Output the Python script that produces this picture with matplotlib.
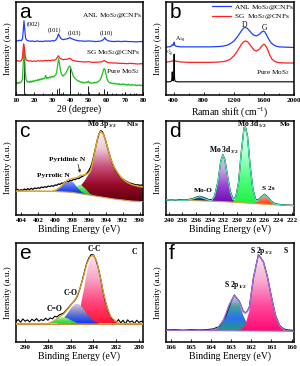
import numpy as np
import matplotlib.pyplot as plt
from matplotlib.colors import LinearSegmentedColormap
from matplotlib.patches import Polygon

plt.rcParams['font.family'] = 'Liberation Serif'
plt.rcParams['font.weight'] = 'bold'
plt.rcParams['mathtext.default'] = 'regular'

# ---------------- (a) XRD ----------------
a_anl = [(10,165),(11,164),(12,166),(13,165),(13.6,172),(14.0,195),(14.4,225),(14.8,200),(15.3,172),
         (16,166),(17,164),(18,163),(19,164),(20,162),(21,163),(22,164),(23,162),(24,163),(25,162),
         (26,164),(27,163),(28,164),(29,163),(30,165),(31,164),(32,167),(32.8,175),(33.4,185),(34.0,178),
         (35,170),(36,168),(37,169),(38,170),(39,172),(39.8,174),(40.5,171),(42,168),(43,166),(44,165),
         (45,164),(46,164),(48,163),(50,164),(52,163),(54,162),(56,163),(57.5,165),(58.5,170),(59.0,174),
         (59.5,169),(60.5,165),(62,163),(64,162),(66,163),(68,162),(70,163),(72,162),(74,162),(76,161),
         (78,162),(80,162)]
a_sg = [(10,103),(11,104),(12,102),(13,105),(13.5,112),(13.9,138),(14.2,155),(14.6,145),(15.0,122),
        (15.5,108),(16,105),(17,103),(18,104),(19,102),(20,103),(21,102),(22,104),(23,103),(24,104),
        (25,103),(26,105),(27,104),(28,105),(29,104),(30,106),(31,105),(32,108),(32.8,114),(33.3,119),
        (34.0,113),(35,109),(36,107),(37,108),(38,108),(39.3,111),(40,110),(41,106),(42,104),(43,103),
        (44,102),(46,101),(48,100),(50,101),(52,99),(54,99),(56,100),(57.5,101),(58.6,105),(59.5,101),
        (61,98),(63,97),(65,97),(67,96),(69,96),(71,95),(73,96),(75,95),(77,94),(79,95),(80,94)]
a_pure = [(10,37),(10.5,34),(11,38),(11.5,35),(12,39),(12.5,37),(13,41),(13.5,48),(13.9,85),(14.2,122),
          (14.5,140),(14.8,112),(15.1,70),(15.5,48),(16,42),(16.5,39),(17,41),(17.5,38),(18,42),(18.5,39),
          (19,43),(19.5,40),(20,44),(20.5,42),(21,45),(21.5,43),(22,47),(22.5,44),(23,48),(23.5,46),
          (24,50),(24.5,47),(25,51),(25.5,49),(26,52),(26.4,60),(26.7,52),(27,50),(27.5,53),(28,51),
          (28.5,55),(29,52),(29.5,56),(30,54),(30.5,57),(31,55),(31.5,59),(32,62),(32.5,72),(33,92),
          (33.5,110),(34,95),(34.5,75),(35,65),(35.5,60),(36,57),(36.5,61),(37,63),(37.5,67),(38,72),
          (38.5,78),(39,84),(39.5,88),(40,85),(40.5,76),(41,66),(41.5,58),(42,54),(42.5,50),(43,48),
          (43.5,45),(44,44),(44.5,41),(45,42),(45.5,39),(46,40),(46.5,37),(47,39),(47.5,36),(48,38),
          (48.5,37),(49,40),(49.5,38),(50,42),(50.5,37),(51,38),(51.5,35),(52,37),(52.5,36),(53,38),
          (53.5,36),(54,39),(54.5,37),(55,40),(55.5,41),(56,44),(56.5,47),(57,53),(57.5,62),(58,72),
          (58.5,80),(59,78),(59.5,66),(60,52),(60.5,44),(61,40),(61.5,37),(62,38),(62.5,35),(63,36),
          (63.5,34),(64,36),(64.5,33),(65,35),(65.5,33),(66,34),(66.5,32),(67,34),(67.5,31),(68,33),
          (68.5,31),(69,34),(69.5,32),(70,33),(70.5,30),(71,32),(71.5,30),(72,33),(72.5,30),(73,31),
          (73.5,29),(74,32),(74.5,30),(75,31),(75.5,29),(76,31),(76.5,28),(77,30),(77.5,29),(78,31),
          (78.5,28),(79,30),(79.5,28),(80,29)]
a_ref_pos = [14.4, 32.7, 33.5, 35.9, 39.5, 44.2, 49.8, 55.9, 58.3, 60.1, 62.8, 68.7, 70.1, 72.8, 75.9]
a_ref_h = [138, 18, 22, 10, 82, 10, 28, 8, 18, 12, 6, 6, 8, 5, 5]

# ---------------- (b) Raman ----------------
b_anl = [(300,145),(330,146),(360,147),(375,150),(383,153),(392,150),(400,153),(408,160),(416,151),
         (430,148),(460,147),(500,146),(600,146),(700,146),(800,146),(900,146),(1000,147),(1050,148),
         (1100,150),(1150,155),(1200,163),(1250,177),(1300,194),(1330,203),(1355,205),(1380,202),
         (1420,192),(1460,182),(1500,179),(1540,184),(1570,191),(1595,194),(1615,191),(1640,180),
         (1670,167),(1700,157),(1750,149),(1800,146),(1900,145),(2000,144)]
b_sg = [(300,100),(350,101),(380,103),(400,104),(420,103),(450,102),(500,100),(600,99),(700,99),
        (800,99),(900,99),(1000,100),(1050,101),(1100,103),(1150,108),(1200,118),(1250,134),(1300,153),
        (1330,161),(1355,164),(1390,160),(1430,148),(1470,136),(1500,133),(1540,139),(1575,149),
        (1600,154),(1620,151),(1650,138),(1680,120),(1710,108),(1750,101),(1800,98),(1900,97),(2000,97)]
b_pure = [(300,40),(340,40),(365,41),(375,44),(380,55),(383,70),(386,55),(390,44),(398,43),(402,52),
          (405,80),(408,124),(411,80),(414,50),(420,42),(450,40),(600,40),(1000,40),(1500,40),(2000,40)]

# ---------------- (c) N1s / Mo 3p ----------------
c_raw = [(404.6,74),(404.4,77),(404.2,73),(404.0,76),(403.8,74),(403.6,78),(403.4,75),(403.2,79),
         (403.0,76),(402.8,80),(402.6,77),(402.4,81),(402.2,79),(402.0,82),(401.8,80),(401.6,84),
         (401.4,82),(401.2,85),(401.0,83),(400.8,87),(400.6,85),(400.4,88),(400.2,86),(400.0,90),
         (399.8,89),(399.6,93),(399.4,92),(399.2,96),(399.0,95),(398.8,99),(398.6,101),(398.4,100),
         (398.2,104),(398.0,103),(397.8,107),(397.6,106),(397.4,110),(397.2,109),(397.0,113),
         (396.8,115),(396.6,118),(396.4,121),(396.2,126),(396.0,133),(395.8,143),(395.6,158),
         (395.4,180),(395.2,203),(395.0,225),(394.8,243),(394.6,253),(394.4,250),(394.2,238),
         (394.0,222),(393.8,203),(393.6,185),(393.4,168),(393.2,154),(393.0,142),(392.8,132),
         (392.6,125),(392.4,118),(392.2,113),(392.0,108),(391.8,105),(391.6,101),(391.4,99),
         (391.2,96),(391.0,95),(390.8,93),(390.6,92),(390.4,90),(390.2,91),(390.0,89),(389.8,90),(389.6,89)]
c_bg = [(404.6,72),(400.3,71),(398.0,68),(396.7,63),(395.0,56),(393.0,48),(391.0,42),(389.6,40)]
c_fit = [(404.6,72),(400.3,71),(399.8,76),(399.3,85),(398.8,99),(398.3,107),(397.8,110),(397.3,113),
         (397.0,119),(396.5,120),(396.1,124),(395.8,132),(395.5,163),(395.2,202),(394.9,237),
         (394.6,251),(394.3,243),(394.0,222),(393.7,194),(393.4,168),(393.0,143),(392.6,127),
         (392.2,113),(391.8,104),(391.4,97),(391.0,92),(390.5,88),(390.0,85),(389.6,84)]
c_mo3p = [(398.0,0),(397.5,8),(397.0,22),(396.5,40),(396.1,58),(395.8,70),(395.5,105),(395.2,145),
          (394.9,182),(394.6,197),(394.3,190),(394.0,170),(393.7,143),(393.4,118),(393.0,95),
          (392.6,80),(392.2,68),(391.8,60),(391.4,54),(391.0,50),(390.5,47),(390.0,45),(389.6,44)]
c_pyrrolic = [(400.3,0),(399.8,5),(399.3,15),(398.8,30),(398.3,37),(397.8,30),(397.3,15),(396.8,5),(396.3,0)]
c_pyridinic = [(398.6,0),(398.1,5),(397.6,17),(397.0,28),(396.4,17),(395.9,5),(395.4,0)]

# ---------------- (d) Mo 3d ----------------
d_bg = [(240.4,45),(236.0,43),(232.0,40),(228.0,35),(224.0,30),(221.7,28)]
d_fit = [(240.4,45),(239,45),(238,44),(237.5,44),(236.5,48),(235.5,55),(234.5,47),(233.8,42),
         (233.3,56),(232.8,100),(232.4,160),(232.1,180),(231.8,165),(231.4,115),(231.0,68),(230.6,46),
         (230.2,53),(229.8,97),(229.4,187),(229.0,261),(228.8,263),(228.5,236),(228.1,145),(227.7,75),
         (227.3,45),(227.0,42),(226.5,53),(226.0,61),(225.5,52),(225.0,40),(224.5,33),(224,31),
         (222,28),(221.7,28)]
d_raw = [(240.4,44),(239.5,46),(239,44),(238.5,46),(238,45),(237.5,45),(237,47),(236.5,49),(236,53),
         (235.5,56),(235,53),(234.5,49),(234,45),(233.6,47),(233.3,57),(232.8,101),(232.4,161),
         (232.1,181),(231.8,166),(231.4,116),(231.0,70),(230.6,48),(230.2,54),(229.8,98),(229.4,188),
         (229.0,262),(228.8,264),(228.5,237),(228.1,146),(227.7,77),(227.3,47),(227.0,44),(226.5,54),
         (226.0,62),(225.5,53),(225.0,41),(224.5,34),(224,32),(223,30),(222,29),(221.7,29)]
d_moo = [(237.5,0),(237.0,2),(236.5,5),(236.0,9),(235.5,12),(235.0,9),(234.5,5),(234.0,2),(233.5,0)]
d_3d32 = [(233.8,0),(233.3,15),(232.8,60),(232.4,120),(232.1,140),(231.8,125),(231.4,75),(231.0,30),(230.6,8),(230.2,0)]
d_3d52 = [(230.6,0),(230.2,15),(229.8,60),(229.4,150),(229.0,225),(228.8,227),(228.5,200),(228.1,110),(227.7,40),(227.3,10),(226.9,0)]
d_s2s = [(227.5,0),(227.0,8),(226.5,20),(226.0,28),(225.5,20),(225.0,8),(224.5,2),(224.0,0)]

# ---------------- (e) C1s ----------------
e_raw = [(290.8,62),(290.6,68),(290.4,60),(290.2,70),(290.0,63),(289.8,67),(289.6,61),(289.4,69),
         (289.2,64),(289.0,71),(288.8,63),(288.6,68),(288.4,65),(288.2,72),(288.0,66),(287.8,73),
         (287.6,70),(287.4,78),(287.2,76),(287.0,82),(286.8,85),(286.6,88),(286.4,96),(286.2,104),
         (286.0,112),(285.8,120),(285.6,128),(285.4,140),(285.2,160),(285.0,185),(284.8,212),
         (284.6,238),(284.4,255),(284.2,265),(284.0,264),(283.8,250),(283.6,228),(283.4,198),
         (283.2,160),(283.0,128),(282.8,105),(282.6,85),(282.4,72),(282.2,66),(282.0,60),(281.8,68),
         (281.6,58),(281.4,66),(281.2,55),(281.0,67),(280.8,60),(280.6,64),(280.4,56),(280.2,66),
         (280.0,59),(279.8,63),(279.65,60)]
e_bg = [(290.8,56),(279.65,56)]
e_fit = [(290.8,56),(288.0,56),(287.5,63),(287.0,76),(286.6,85),(286.2,102),(285.8,120),(285.5,135),
         (285.2,160),(284.9,195),(284.6,235),(284.3,258),(284.0,263),(283.7,243),(283.4,197),(283.1,146),
         (282.8,106),(282.5,78),(282.1,63),(281.7,56),(279.65,56)]
e_co2 = [(288.0,0),(287.5,7),(287.0,17),(286.7,20),(286.3,16),(285.8,7),(285.3,0)]
e_co = [(287.2,0),(286.8,8),(286.4,25),(286.0,45),(285.6,60),(285.3,60),(284.9,45),(284.5,25),(284.0,8),(283.5,0)]
e_cc = [(286.0,0),(285.6,10),(285.2,40),(284.8,110),(284.5,170),(284.2,205),(284.0,207),(283.7,185),
        (283.4,140),(283.1,90),(282.8,50),(282.5,22),(282.1,7),(281.7,0)]

# ---------------- (f) S 2p ----------------
f_bg = [(166.25,35),(159.88,32)]
f_fit = [(166.25,35),(164.5,35),(164.0,35),(163.7,40),(163.4,64),(163.1,112),(162.85,139),(162.6,120),
         (162.4,90),(162.3,86),(162.2,91),(162.1,104),(161.9,190),(161.65,260),(161.4,238),(161.2,193),
         (161.0,133),(160.8,78),(160.6,49),(160.4,37),(160.2,33),(159.88,32)]
f_raw = [(166.25,36),(165.8,37),(165.4,35),(165.0,37),(164.6,36),(164.2,37),(163.9,39),(163.6,46),
         (163.3,74),(163.0,122),(162.85,140),(162.6,121),(162.4,91),(162.3,87),(162.2,92),(162.1,105),
         (161.9,191),(161.65,261),(161.4,239),(161.2,194),(161.0,134),(160.8,80),(160.6,50),(160.4,39),
         (160.2,36),(160.0,35),(159.88,34)]
f_p12 = [(164.0,0),(163.7,6),(163.4,30),(163.1,78),(162.85,104),(162.6,82),(162.4,45),(162.2,20),(162.0,7),(161.7,0)]
f_p32 = [(162.8,0),(162.5,5),(162.3,18),(162.1,60),(161.9,155),(161.65,226),(161.4,205),(161.2,160),
         (161.0,100),(160.8,45),(160.6,16),(160.4,4),(160.2,0)]


def xy(pts):
    a = np.array(pts, dtype=float)
    return a[:, 0], a[:, 1]


def grad_fill(ax, pts, bg, colors, z=2):
    x, y = xy(pts)
    bx, by = xy(sorted(bg))
    base = np.interp(x, bx, by)
    top = base + y
    verts = np.column_stack([np.r_[x, x[::-1]], np.r_[top, base[::-1]]])
    patch = Polygon(verts, closed=True, facecolor='none', edgecolor='none')
    ax.add_patch(patch)
    cmap = LinearSegmentedColormap.from_list('g', colors)
    im = ax.imshow(np.linspace(0, 1, 256).reshape(-1, 1), cmap=cmap, origin='lower', aspect='auto',
                   extent=(x.min(), x.max(), base.min(), top.max()), zorder=z, interpolation='bilinear')
    im.set_clip_path(patch)


fig = plt.figure(figsize=(3.0, 3.66), dpi=100)


def panel(rect, letter, xlabel):
    ax = fig.add_axes(rect)
    for s in ax.spines.values():
        s.set_linewidth(1.1)
    ax.set_yticks([])
    ax.tick_params(axis='x', which='major', direction='in', length=2.2, width=0.6, labelsize=5.2, pad=2.5)
    ax.tick_params(axis='x', which='minor', direction='in', length=1.2, width=0.5)
    ax.set_ylabel('Intensity (a.u.)', fontsize=6.5, labelpad=3)
    ax.set_xlabel(xlabel, fontsize=7, labelpad=1)
    ax.text(0.025, 0.985, letter, transform=ax.transAxes, family='Liberation Sans', fontweight='normal',
            fontsize=15, va='top', ha='left')
    return ax


L1, W1 = 16 / 300, 127 / 300
L2, W2 = 166 / 300, 128 / 300
R1 = (1 - 95 / 366, 93 / 366)
R2 = (1 - 215 / 366, 94 / 366)
R3 = (1 - 342 / 366, 99 / 366)

# ---- a ----
ax = panel([L1, R1[0], W1, R1[1]], 'a', '2θ (degree)')
ax.vlines(a_ref_pos, 0, a_ref_h, colors='#222222', lw=0.7, zorder=1)
ax.plot(*xy(a_pure), color='#22c022', lw=0.9)
ax.plot(*xy(a_sg), color='#ff2020', lw=0.9)
ax.plot(*xy(a_anl), color='#2040ff', lw=0.9)
tf = dict(fontsize=4.6, fontweight='normal')
ax.text(16.0, 215, '(002)', ha='left', va='center', **tf)
ax.text(31, 198, '(101)', ha='center', va='center', **tf)
ax.text(42.5, 188, '(103)', ha='center', va='center', **tf)
ax.text(59.7, 188, '(110)', ha='center', va='center', **tf)
lf = dict(fontsize=5.3, fontweight='normal', ha='right', va='center')
ax.text(79.3, 240, 'ANL MoS$_2$@CNFs', **lf)
ax.text(78.5, 130, 'SG MoS$_2$@CNFs', **lf)
ax.text(78.5, 70, 'Pure MoS$_2$', **lf)
ax.set_xlim(10, 80)
ax.set_ylim(0, 282)
ax.set_xticks(range(10, 81, 10))
ax.set_xticks(range(15, 80, 10), minor=True)

# ---- b ----
ax = panel([L2, R1[0], W2, R1[1]], 'b', 'Raman shift (cm$^{-1}$)')
l1, = ax.plot(*xy(b_anl), color='#2040ff', lw=0.9)
l2, = ax.plot(*xy(b_sg), color='#ff2020', lw=0.9)
ax.plot(*xy(b_pure), color='black', lw=0.8)
ax.legend([l1, l2], ['ANL MoS$_2$@CNFs', 'SG  MoS$_2$@CNFs'], loc='upper right',
          bbox_to_anchor=(1.01, 1.005), frameon=False,
          prop={'family': 'Liberation Serif', 'weight': 'normal', 'size': 5.3}, handlelength=2.6,
          handletextpad=0.4, labelspacing=0.02, borderaxespad=0.1, borderpad=0.1)
ax.text(1345, 212, 'D', ha='center', va='center', fontsize=5.5, fontweight='normal')
ax.text(1605, 203, 'G', ha='center', va='center', fontsize=5.5, fontweight='normal')
ax.text(420, 166, 'A$_{1g}$', ha='left', va='center', fontsize=4.3, fontweight='normal')
ax.text(345, 128, 'E$^1_{2g}$', ha='center', va='center', fontsize=3.5, fontweight='normal')
ax.text(1950, 67, 'Pure MoS$_2$', ha='right', va='center', fontsize=5.3, fontweight='normal')
ax.set_xlim(300, 2000)
ax.set_ylim(0, 282)
ax.set_xticks(range(400, 2001, 400))
ax.set_xticks(range(600, 2000, 400), minor=True)

# ---- c ----
ax = panel([L1, R2[0], W1, R2[1]], 'c', 'Binding Energy (eV)')
grad_fill(ax, c_mo3p, c_bg, ['#5a000c', '#9a0a2a', '#c8507a', '#ecc8da', '#f8f0f4'])
grad_fill(ax, c_pyridinic, c_bg, ['#10c030', '#40e050', '#a0ffa0'], z=3)
grad_fill(ax, c_pyrrolic, c_bg, ['#1020d0', '#4060f0', '#a0a8ff'], z=3)
ax.plot(*xy(c_bg), color='#c8a060', lw=0.8, zorder=4)
ax.plot(*xy(c_raw), color='black', lw=0.9, zorder=4)
ax.plot(*xy(c_fit), color='#e0a820', lw=1.0, zorder=5)
ax.text(394.5, 272, 'Mo 3p$_{3/2}$', ha='center', va='center', fontsize=5.5)
ax.text(390.8, 272, 'N1s', ha='center', va='center', fontsize=5.3)
ax.text(398.6, 167, 'Pyridinic N', ha='center', va='center', fontsize=5.3)
ax.text(400.2, 117, 'Pyrrolic N', ha='center', va='center', fontsize=5.3)
ax.annotate('', xy=(396.95, 118), xytext=(397.35, 160),
            arrowprops=dict(arrowstyle='-|>', color='#333333', lw=0.6, mutation_scale=4))
ax.set_xlim(404.6, 389.6)
ax.set_ylim(0, 282)
ax.set_xticks(range(404, 389, -2))

# ---- d ----
ax = panel([L2, R2[0], W2, R2[1]], 'd', 'Binding Energy (eV)')
grad_fill(ax, d_moo, d_bg, ['#101070', '#2040a0', '#6080c0'])
grad_fill(ax, d_3d32, d_bg, ['#6a10b0', '#9a40d8', '#c8a0e8', '#a8f0c8'])
grad_fill(ax, d_3d52, d_bg, ['#20f040', '#50ff80', '#b0ffd8', '#e0fff0'])
grad_fill(ax, d_s2s, d_bg, ['#ff3010', '#ff7050', '#f0b8c8'])
ax.plot(*xy(d_bg), color='#d8a040', lw=0.8, zorder=4)
ax.plot(*xy(d_raw), color='black', lw=0.9, zorder=4)
ax.plot(*xy(d_fit), color='#50e8b0', lw=0.9, zorder=5)
ax.text(227.8, 272, 'Mo 3d$_{5/2}$', ha='center', va='center', fontsize=5.5)
ax.text(223.0, 272, 'Mo', ha='center', va='center', fontsize=5.3)
ax.text(232.0, 195, 'Mo 3d$_{3/2}$', ha='center', va='center', fontsize=5.5)
ax.text(234.9, 74, 'Mo-O', ha='center', va='center', fontsize=5.3)
ax.text(225.5, 78, 'S 2s', ha='center', va='center', fontsize=5.3)
ax.set_xlim(240.4, 221.7)
ax.set_ylim(0, 282)
ax.set_xticks(range(240, 221, -2))

# ---- e ----
ax = panel([L1, R3[0], W1, R3[1]], 'e', 'Binding Energy (eV)')
grad_fill(ax, e_cc, e_bg, ['#ff1030', '#ff4a80', '#f8a8c8', '#fbe4ee'])
grad_fill(ax, e_co, e_bg, ['#1030ff', '#4060e0', '#9090c8', '#d8c8e8'], z=3)
grad_fill(ax, e_co2, e_bg, ['#20d030', '#50e050', '#b0f0a0'], z=3)
ax.plot(*xy(e_bg), color='#c89040', lw=0.8, zorder=4)
ax.plot(*xy(e_raw), color='black', lw=0.8, zorder=4)
ax.plot(*xy(e_fit), color='#d8a030', lw=0.9, zorder=5)
ax.text(283.9, 282, 'C-C', ha='center', va='center', fontsize=5.5)
ax.text(280.4, 272, 'C', ha='center', va='center', fontsize=5.5)
ax.text(286.0, 147, 'C-O', ha='center', va='center', fontsize=5.5)
ax.text(287.4, 101, 'C=O', ha='center', va='center', fontsize=5.5)
ax.set_xlim(290.8, 279.65)
ax.set_ylim(0, 300)
ax.set_xticks(range(290, 279, -2))

# ---- f ----
ax = panel([L2, R3[0], W2, R3[1]], 'f', 'Binding Energy (eV)')
grad_fill(ax, f_p12, f_bg, ['#20a070', '#2a70f0', '#40a0a0', '#e0c8f0'])
grad_fill(ax, f_p32, f_bg, ['#ff0a70', '#ff4aa0', '#f8b0d0', '#fae8f2'])
ax.plot(*xy(f_bg), color='#9a70c8', lw=0.8, zorder=4)
ax.plot(*xy(f_raw), color='black', lw=0.8, zorder=4)
ax.plot(*xy(f_fit), color='#a070d8', lw=1.0, zorder=5)
ax.text(161.5, 270, 'S 2p$_{3/2}$', ha='center', va='center', fontsize=5.5)
ax.text(160.3, 270, 'S', ha='center', va='center', fontsize=5.5)
ax.text(162.8, 170, 'S 2p$_{1/2}$', ha='center', va='center', fontsize=5.5)
ax.set_xlim(166.25, 159.88)
ax.set_ylim(0, 295)
ax.set_xticks(range(166, 159, -1))

fig.savefig('out.png', dpi=100)
